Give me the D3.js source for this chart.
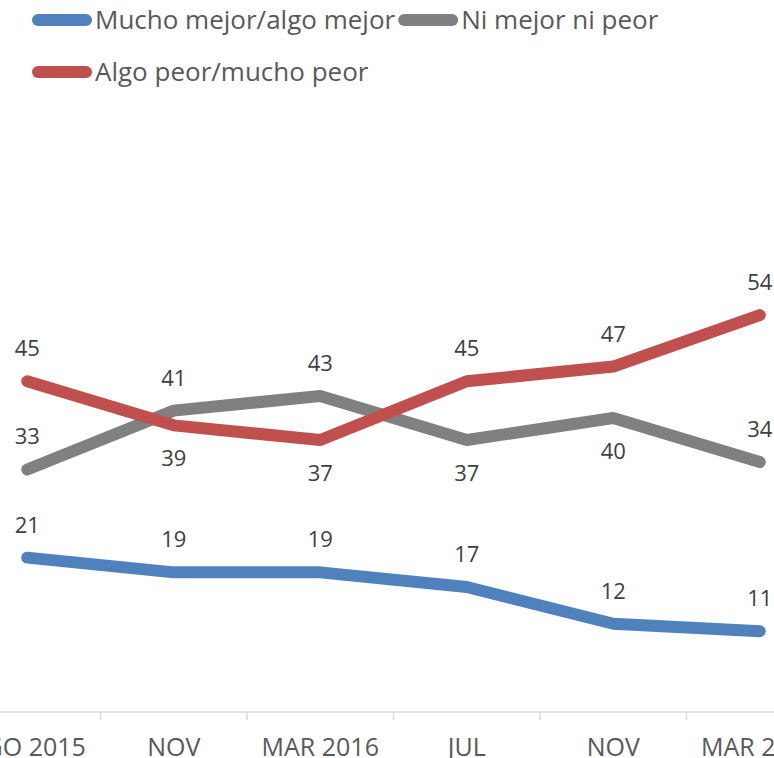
<!DOCTYPE html>
<html>
<head>
<meta charset="utf-8">
<script src="https://cdn.jsdelivr.net/npm/d3@7"></script>
<style>
  body { margin: 0; background: #fff; overflow: hidden; }
  svg { display: block; font-family: "Open Sans", sans-serif; }
</style>
</head>
<body>
<svg width="774" height="758"></svg>
<script>
// categories (x axis)
var periods = ["AGO 2015", "NOV", "MAR 2016", "JUL", "NOV", "MAR 2017"];

// series values
var mejor = [21, 19, 19, 17, 12, 11];
var igual = [33, 41, 43, 37, 40, 34];
var peor = [45, 39, 37, 45, 47, 54];

// label placement per point: above or below the line
var mejorLabelPos = ["t", "t", "t", "t", "t", "t"];
var igualLabelPos = ["t", "t", "t", "b", "b", "t"];
var peorLabelPos = ["t", "b", "b", "t", "t", "t"];

var series = [
    { name: "Mucho mejor/algo mejor", values: mejor, pos: mejorLabelPos, color: "#4f81bd" },
    { name: "Ni mejor ni peor", values: igual, pos: igualLabelPos, color: "#808080" },
    { name: "Algo peor/mucho peor", values: peor, pos: peorLabelPos, color: "#c0504d" }
];

var svg = d3.select("svg");

var x = d3.scaleBand()
    .domain(d3.range(periods.length))
    .range([-46, 833]);

var y = d3.scaleLinear()
    .domain([0, 60])
    .range([712, 271]);

function cx(i) { return x(i) + x.bandwidth() / 2; }

// x axis
var axis = svg.append("g").attr("transform", "translate(0,712)");
axis.append("line")
    .attr("x1", 0).attr("x2", 774)
    .attr("stroke", "#d9d9d9").attr("stroke-width", 1.5);
axis.selectAll("line.tick")
    .data(d3.range(1, periods.length))
    .enter().append("line")
    .attr("class", "tick")
    .attr("x1", function (d) { return x(d); })
    .attr("x2", function (d) { return x(d); })
    .attr("y1", 0).attr("y2", 8)
    .attr("stroke", "#d9d9d9").attr("stroke-width", 1.5);
axis.selectAll("text")
    .data(periods)
    .enter().append("text")
    .attr("x", function (d, i) { return cx(i); })
    .attr("y", 44)
    .attr("text-anchor", "middle")
    .attr("fill", "#595959")
    .style("font-size", "25px")
    .text(function (d) { return d; });

// lines
var line = d3.line()
    .x(function (d, i) { return cx(i); })
    .y(function (d) { return y(d); });

series.forEach(function (s) {
    svg.append("path")
        .datum(s.values)
        .attr("d", line)
        .attr("fill", "none")
        .attr("stroke", s.color)
        .attr("stroke-width", 12)
        .attr("stroke-linecap", "round")
        .attr("stroke-linejoin", "round");
});

// data labels
series.forEach(function (s) {
    svg.append("g")
        .selectAll("text")
        .data(s.values)
        .enter().append("text")
        .attr("x", function (d, i) { return cx(i); })
        .attr("y", function (d, i) {
            return s.pos[i] === "t" ? y(d) - 25 : y(d) + 41;
        })
        .attr("text-anchor", "middle")
        .attr("fill", "#404040")
        .style("font-size", "22px")
        .text(function (d) { return d; });
});

// legend: symbol then text, items flow left to right
function legendItem(s, lx, ly) {
    var g = svg.append("g").attr("transform", "translate(" + lx + "," + ly + ")");
    g.append("line")
        .attr("x1", 6).attr("x2", 54)
        .attr("stroke", s.color)
        .attr("stroke-width", 12)
        .attr("stroke-linecap", "round");
    var t = g.append("text")
        .attr("x", 63)
        .attr("dy", "0.35em")
        .attr("fill", "#595959")
        .style("font-size", "26px")
        .text(s.name);
    return lx + 63 + t.node().getComputedTextLength();
}

var nextX = legendItem(series[0], 32, 20);
legendItem(series[1], nextX + 3, 20);
legendItem(series[2], 32, 72);
</script>
</body>
</html>
